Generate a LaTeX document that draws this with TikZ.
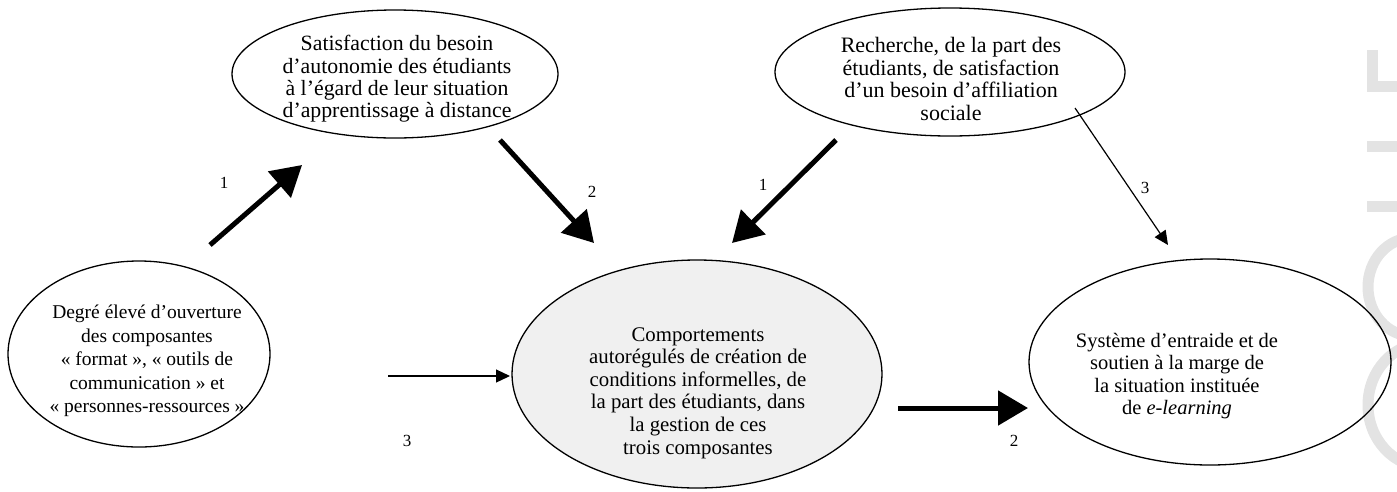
\documentclass[tikz,border=0pt]{standalone}
\usepackage{fontspec}
\setmainfont{Liberation Serif}
\usetikzlibrary{shapes.geometric,arrows.meta}
\tikzset{
  oval/.style={draw, line width=1.3pt, ellipse, inner sep=0pt},
  txt/.style={align=center, inner sep=0pt},
  num/.style={font=\fontsize{17}{18}\selectfont, inner sep=0pt},
  bigarrow/.style={line width=5pt, -{Triangle[length=30pt,width=34pt]}},
  thinarrow/.style={line width=1.2pt, -{Triangle[length=14pt,width=13pt]}},
  wm/.style={draw=black!11, line width=11pt}
}
\begin{document}
\begin{tikzpicture}[x=1pt,y=-1pt]
\useasboundingbox (0,0) rectangle (1397,491);
% watermark shapes at the right edge
\begin{scope}
\clip (0,0) rectangle (1397,491);
\draw[wm] (1372,50) -- (1372,92);
\draw[wm] (1367,86) -- (1400,86);
\draw[wm] (1367,146) -- (1400,146);
\draw[wm] (1367,206) -- (1400,206);
\draw[wm] (1412,287) ellipse (44 and 49);
\draw[wm] (1425,405) ellipse (57 and 62);
\end{scope}
% ellipses
\node[oval, minimum width=326pt, minimum height=128pt] (tl) at (395,74) {};
\node[oval, minimum width=350pt, minimum height=128pt] (tr) at (950,72) {};
\node[oval, minimum width=262pt, minimum height=186pt] (lf) at (139,354) {};
\node[oval, fill=black!6, minimum width=370pt, minimum height=228pt] (ct) at (697,374) {};
\node[oval, minimum width=362pt, minimum height=206pt] (rt) at (1210,362) {};
% texts
\node[txt, font=\fontsize{21.8}{22.4}\selectfont] (tlt) at (397,79) {Satisfaction du besoin\\d’autonomie des étudiants\\à l’égard de leur situation\\d’apprentissage à distance};
\node[txt, font=\fontsize{22}{22.4}\selectfont] (trt) at (951,79) {Recherche, de la part des\\étudiants, de satisfaction\\d’un besoin d’affiliation\\sociale};
\node[txt, font=\fontsize{19.5}{23.5}\selectfont] (lft) at (147,361) {Degré élevé d’ouverture\\des composantes\\« format », « outils de\\communication » et\\« personnes-ressources »};
\node[txt, font=\fontsize{20.8}{22.6}\selectfont] (ctt) at (698,393) {Comportements\\autorégulés de création de\\conditions informelles, de\\la part des étudiants, dans\\la gestion de ces\\trois composantes};
\node[txt, font=\fontsize{20.5}{22.6}\selectfont] (rtt) at (1177,376) {Système d’entraide et de\\soutien à la marge de\\la situation instituée\\de \textit{e-learning}};
% arrow end points
\coordinate (a1s) at (210,245); \coordinate (a1e) at (302,165);
\coordinate (a2s) at (500,140); \coordinate (a2e) at (594,243);
\coordinate (a3s) at (836,140); \coordinate (a3e) at (732,243);
\coordinate (a4s) at (1075,108); \coordinate (a4e) at (1168,245);
\coordinate (a5s) at (388,376); \coordinate (a5e) at (510,376);
\coordinate (a6s) at (898,408); \coordinate (a6e) at (1028,408);
\draw[bigarrow] (a1s) -- (a1e);
\draw[bigarrow] (a2s) -- (a2e);
\draw[bigarrow] (a3s) -- (a3e);
\draw[thinarrow] (a4s) -- (a4e);
\draw[thinarrow] (a5s) -- (a5e);
\draw[bigarrow] (a6s) -- (a6e);
% labels
\node[num] (n1) at (224,183) {1};
\node[num] (n2) at (592,192) {2};
\node[num] (n3) at (763,185) {1};
\node[num] (n4) at (1145,188) {3};
\node[num] (n5) at (407,441) {3};
\node[num] (n6) at (1014,441) {2};
\end{tikzpicture}
\end{document}
